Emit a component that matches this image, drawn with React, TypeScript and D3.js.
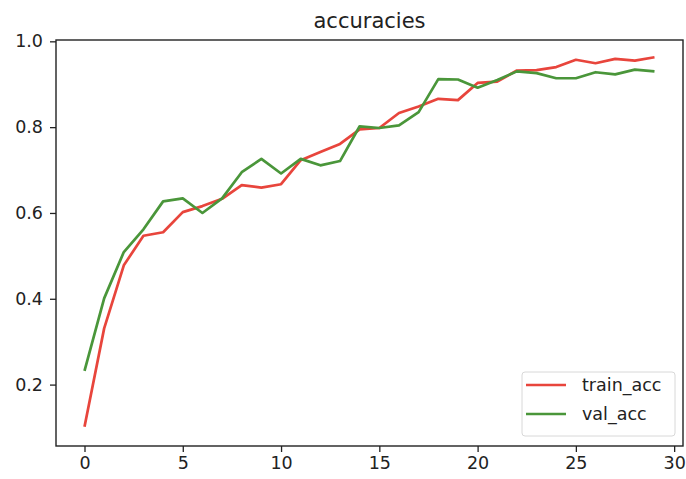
import React, { useEffect, useRef } from 'react';
import * as d3 from 'd3';

// epochs 0..29
const epochs = d3.range(30);

const trainAcc = [
  0.102, 0.331, 0.478, 0.547, 0.555, 0.602, 0.616, 0.633, 0.665, 0.659,
  0.667, 0.723, 0.742, 0.761, 0.795, 0.798, 0.833, 0.848, 0.866, 0.863,
  0.903, 0.906, 0.932, 0.933, 0.940, 0.957, 0.949, 0.959, 0.955, 0.963,
];

const valAcc = [
  0.232, 0.401, 0.509, 0.562, 0.627, 0.634, 0.600, 0.634, 0.695, 0.726,
  0.692, 0.726, 0.711, 0.721, 0.802, 0.798, 0.804, 0.835, 0.912, 0.911,
  0.892, 0.910, 0.930, 0.926, 0.914, 0.914, 0.928, 0.923, 0.934, 0.930,
];

const xTicks = [0, 5, 10, 15, 20, 25, 30];
const yTicks = [0.2, 0.4, 0.6, 0.8, 1.0];

const seriesNames = ['train_acc', 'val_acc'];
const seriesColors = ['#e8453c', '#4a963a'];

const App = () => {
  const ref = useRef<SVGSVGElement>(null);

  useEffect(() => {
    const svg = d3.select(ref.current);
    svg.selectAll('*').remove();

    const W = 686, H = 479;
    const left = 56, right = 683, top = 40, bottom = 446;
    const font = 'DejaVu Sans, sans-serif';

    const x = d3.scaleLinear().domain([-1.45, 30.45]).range([left, right]);
    const y = d3.scaleLinear().domain([0.0569, 1.0031]).range([bottom, top]);

    svg.attr('width', W).attr('height', H);
    svg.append('rect').attr('width', W).attr('height', H).attr('fill', '#fff');

    // lines
    const line = d3.line<number>()
      .x((_, i) => x(epochs[i]))
      .y(d => y(d));

    [trainAcc, valAcc].forEach((vals, k) => {
      svg.append('path')
        .datum(vals)
        .attr('fill', 'none')
        .attr('stroke', seriesColors[k])
        .attr('stroke-width', 2.7)
        .attr('stroke-linejoin', 'round')
        .attr('d', line);
    });

    // frame
    svg.append('rect')
      .attr('x', left).attr('y', top)
      .attr('width', right - left).attr('height', bottom - top)
      .attr('fill', 'none')
      .attr('stroke', '#222')
      .attr('stroke-width', 1.4);

    // x axis
    const xAxis = svg.append('g')
      .attr('transform', `translate(0,${bottom})`)
      .call(d3.axisBottom(x).tickValues(xTicks).tickSize(6).tickPadding(5).tickFormat(d3.format('d')));
    xAxis.select('.domain').remove();

    // y axis
    const yAxis = svg.append('g')
      .attr('transform', `translate(${left},0)`)
      .call(d3.axisLeft(y).tickValues(yTicks).tickSize(6).tickPadding(7).tickFormat(d3.format('.1f')));
    yAxis.select('.domain').remove();

    [xAxis, yAxis].forEach(g => {
      g.selectAll('line').attr('stroke', '#222').attr('stroke-width', 1.3);
      g.selectAll('text')
        .attr('fill', '#222')
        .style('font-family', font)
        .style('font-size', '17.5px');
    });

    // title
    svg.append('text')
      .attr('x', (left + right) / 2)
      .attr('y', 28)
      .attr('text-anchor', 'middle')
      .style('font-family', font)
      .style('font-size', '21px')
      .attr('fill', '#222')
      .text('accuracies');

    // legend
    const lg = svg.append('g').attr('transform', 'translate(522,372)');
    lg.append('rect')
      .attr('width', 153).attr('height', 64)
      .attr('rx', 3)
      .attr('fill', '#fff')
      .attr('fill-opacity', 0.8)
      .attr('stroke', '#d8d8d8');
    seriesNames.forEach((name, k) => {
      const yy = 13 + k * 29;
      lg.append('line')
        .attr('x1', 4).attr('x2', 44)
        .attr('y1', yy).attr('y2', yy)
        .attr('stroke', seriesColors[k])
        .attr('stroke-width', 2.7);
      lg.append('text')
        .attr('x', 60).attr('y', yy + 6)
        .style('font-family', font)
        .style('font-size', '17.5px')
        .attr('fill', '#222')
        .text(name);
    });
  }, []);

  return <svg ref={ref} style={{ position: 'absolute', left: 0, top: 0 }} />;
};

export default App;
